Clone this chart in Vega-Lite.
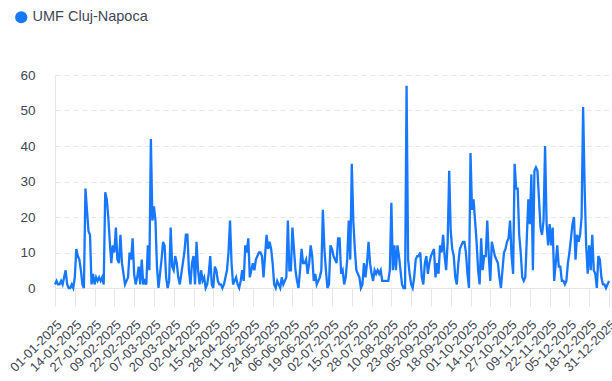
{
  "$schema": "https://vega.github.io/schema/vega-lite/v6.json",
  "autosize": "none",
  "width": 554,
  "height": 213,
  "padding": {"left": 55, "top": 75, "right": 3, "bottom": 93},
  "background": "white",
  "config": {
    "view": {"stroke": null},
    "font": "Liberation Sans"
  },
  "data": {"values": [
{"date":"01-01-2025","value":1},{"date":"02-01-2025","value":2},{"date":"03-01-2025","value":1},{"date":"04-01-2025","value":1},{"date":"05-01-2025","value":2},{"date":"06-01-2025","value":1},{"date":"07-01-2025","value":3},{"date":"08-01-2025","value":5},{"date":"09-01-2025","value":1},{"date":"10-01-2025","value":0},
{"date":"11-01-2025","value":0},{"date":"12-01-2025","value":1},{"date":"13-01-2025","value":0},{"date":"14-01-2025","value":3},{"date":"15-01-2025","value":11},{"date":"16-01-2025","value":9},{"date":"17-01-2025","value":8},{"date":"18-01-2025","value":5},{"date":"19-01-2025","value":1},{"date":"20-01-2025","value":0},
{"date":"21-01-2025","value":28},{"date":"22-01-2025","value":22},{"date":"23-01-2025","value":16},{"date":"24-01-2025","value":15},{"date":"25-01-2025","value":1},{"date":"26-01-2025","value":4},{"date":"27-01-2025","value":1},{"date":"28-01-2025","value":3},{"date":"29-01-2025","value":2},{"date":"30-01-2025","value":3},
{"date":"31-01-2025","value":2},
{"date":"01-02-2025","value":3},{"date":"02-02-2025","value":1},{"date":"03-02-2025","value":27},{"date":"04-02-2025","value":25},{"date":"05-02-2025","value":20},{"date":"06-02-2025","value":13},{"date":"07-02-2025","value":7},{"date":"08-02-2025","value":12},{"date":"09-02-2025","value":10},{"date":"10-02-2025","value":17},
{"date":"11-02-2025","value":8},{"date":"12-02-2025","value":7},{"date":"13-02-2025","value":15},{"date":"14-02-2025","value":7},{"date":"15-02-2025","value":4},{"date":"16-02-2025","value":1},{"date":"17-02-2025","value":2},{"date":"18-02-2025","value":3},{"date":"19-02-2025","value":10},{"date":"20-02-2025","value":8},
{"date":"21-02-2025","value":14},{"date":"22-02-2025","value":4},{"date":"23-02-2025","value":1},{"date":"24-02-2025","value":3},{"date":"25-02-2025","value":6},{"date":"26-02-2025","value":1},{"date":"27-02-2025","value":8},{"date":"28-02-2025","value":1},
{"date":"01-03-2025","value":2},{"date":"02-03-2025","value":1},{"date":"03-03-2025","value":12},{"date":"04-03-2025","value":5},{"date":"05-03-2025","value":42},{"date":"06-03-2025","value":19},{"date":"07-03-2025","value":23},{"date":"08-03-2025","value":19},{"date":"09-03-2025","value":6},{"date":"10-03-2025","value":0},
{"date":"11-03-2025","value":4},{"date":"12-03-2025","value":8},{"date":"13-03-2025","value":13},{"date":"14-03-2025","value":12},{"date":"15-03-2025","value":3},{"date":"16-03-2025","value":0},{"date":"17-03-2025","value":2},{"date":"18-03-2025","value":17},{"date":"19-03-2025","value":6},{"date":"20-03-2025","value":5},
{"date":"21-03-2025","value":9},{"date":"22-03-2025","value":7},{"date":"23-03-2025","value":3},{"date":"24-03-2025","value":1},{"date":"25-03-2025","value":4},{"date":"26-03-2025","value":7},{"date":"27-03-2025","value":10},{"date":"28-03-2025","value":15},{"date":"29-03-2025","value":15},{"date":"30-03-2025","value":5},
{"date":"31-03-2025","value":1},
{"date":"01-04-2025","value":7},{"date":"02-04-2025","value":9},{"date":"03-04-2025","value":1},{"date":"04-04-2025","value":13},{"date":"05-04-2025","value":5},{"date":"06-04-2025","value":1},{"date":"07-04-2025","value":5},{"date":"08-04-2025","value":2},{"date":"09-04-2025","value":3},{"date":"10-04-2025","value":0},
{"date":"11-04-2025","value":1},{"date":"12-04-2025","value":4},{"date":"13-04-2025","value":9},{"date":"14-04-2025","value":1},{"date":"15-04-2025","value":0},{"date":"16-04-2025","value":6},{"date":"17-04-2025","value":5},{"date":"18-04-2025","value":2},{"date":"19-04-2025","value":1},{"date":"20-04-2025","value":1},
{"date":"21-04-2025","value":0},{"date":"22-04-2025","value":1},{"date":"23-04-2025","value":3},{"date":"24-04-2025","value":5},{"date":"25-04-2025","value":10},{"date":"26-04-2025","value":19},{"date":"27-04-2025","value":7},{"date":"28-04-2025","value":1},{"date":"29-04-2025","value":2},{"date":"30-04-2025","value":3},
{"date":"01-05-2025","value":1},{"date":"02-05-2025","value":0},{"date":"03-05-2025","value":2},{"date":"04-05-2025","value":5},{"date":"05-05-2025","value":2},{"date":"06-05-2025","value":12},{"date":"07-05-2025","value":10},{"date":"08-05-2025","value":14},{"date":"09-05-2025","value":3},{"date":"10-05-2025","value":5},
{"date":"11-05-2025","value":7},{"date":"12-05-2025","value":5},{"date":"13-05-2025","value":8},{"date":"14-05-2025","value":9},{"date":"15-05-2025","value":10},{"date":"16-05-2025","value":10},{"date":"17-05-2025","value":9},{"date":"18-05-2025","value":3},{"date":"19-05-2025","value":9},{"date":"20-05-2025","value":15},
{"date":"21-05-2025","value":11},{"date":"22-05-2025","value":13},{"date":"23-05-2025","value":11},{"date":"24-05-2025","value":7},{"date":"25-05-2025","value":1},{"date":"26-05-2025","value":0},{"date":"27-05-2025","value":2},{"date":"28-05-2025","value":1},{"date":"29-05-2025","value":0},{"date":"30-05-2025","value":3},
{"date":"31-05-2025","value":1},
{"date":"01-06-2025","value":2},{"date":"02-06-2025","value":3},{"date":"03-06-2025","value":19},{"date":"04-06-2025","value":5},{"date":"05-06-2025","value":5},{"date":"06-06-2025","value":17},{"date":"07-06-2025","value":11},{"date":"08-06-2025","value":5},{"date":"09-06-2025","value":2},{"date":"10-06-2025","value":0},
{"date":"11-06-2025","value":5},{"date":"12-06-2025","value":11},{"date":"13-06-2025","value":7},{"date":"14-06-2025","value":7},{"date":"15-06-2025","value":8},{"date":"16-06-2025","value":4},{"date":"17-06-2025","value":7},{"date":"18-06-2025","value":12},{"date":"19-06-2025","value":9},{"date":"20-06-2025","value":2},
{"date":"21-06-2025","value":4},{"date":"22-06-2025","value":1},{"date":"23-06-2025","value":2},{"date":"24-06-2025","value":3},{"date":"25-06-2025","value":5},{"date":"26-06-2025","value":22},{"date":"27-06-2025","value":11},{"date":"28-06-2025","value":5},{"date":"29-06-2025","value":0},{"date":"30-06-2025","value":1},
{"date":"01-07-2025","value":12},{"date":"02-07-2025","value":11},{"date":"03-07-2025","value":9},{"date":"04-07-2025","value":8},{"date":"05-07-2025","value":7},{"date":"06-07-2025","value":14},{"date":"07-07-2025","value":14},{"date":"08-07-2025","value":4},{"date":"09-07-2025","value":5},{"date":"10-07-2025","value":1},
{"date":"11-07-2025","value":3},{"date":"12-07-2025","value":8},{"date":"13-07-2025","value":19},{"date":"14-07-2025","value":8},{"date":"15-07-2025","value":35},{"date":"16-07-2025","value":19},{"date":"17-07-2025","value":11},{"date":"18-07-2025","value":5},{"date":"19-07-2025","value":4},{"date":"20-07-2025","value":3},
{"date":"21-07-2025","value":0},{"date":"22-07-2025","value":1},{"date":"23-07-2025","value":7},{"date":"24-07-2025","value":3},{"date":"25-07-2025","value":7},{"date":"26-07-2025","value":13},{"date":"27-07-2025","value":7},{"date":"28-07-2025","value":4},{"date":"29-07-2025","value":2},{"date":"30-07-2025","value":5},
{"date":"31-07-2025","value":4},
{"date":"01-08-2025","value":5},{"date":"02-08-2025","value":4},{"date":"03-08-2025","value":5},{"date":"04-08-2025","value":2},{"date":"05-08-2025","value":2},{"date":"06-08-2025","value":2},{"date":"07-08-2025","value":2},{"date":"08-08-2025","value":2},{"date":"09-08-2025","value":5},{"date":"10-08-2025","value":24},
{"date":"11-08-2025","value":5},{"date":"12-08-2025","value":12},{"date":"13-08-2025","value":5},{"date":"14-08-2025","value":12},{"date":"15-08-2025","value":9},{"date":"16-08-2025","value":5},{"date":"17-08-2025","value":1},{"date":"18-08-2025","value":0},{"date":"19-08-2025","value":0},{"date":"20-08-2025","value":57},
{"date":"21-08-2025","value":8},{"date":"22-08-2025","value":4},{"date":"23-08-2025","value":1},{"date":"24-08-2025","value":0},{"date":"25-08-2025","value":3},{"date":"26-08-2025","value":8},{"date":"27-08-2025","value":9},{"date":"28-08-2025","value":9},{"date":"29-08-2025","value":10},{"date":"30-08-2025","value":3},
{"date":"31-08-2025","value":1},
{"date":"01-09-2025","value":7},{"date":"02-09-2025","value":9},{"date":"03-09-2025","value":4},{"date":"04-09-2025","value":7},{"date":"05-09-2025","value":9},{"date":"06-09-2025","value":10},{"date":"07-09-2025","value":11},{"date":"08-09-2025","value":3},{"date":"09-09-2025","value":7},{"date":"10-09-2025","value":4},
{"date":"11-09-2025","value":12},{"date":"12-09-2025","value":10},{"date":"13-09-2025","value":15},{"date":"14-09-2025","value":9},{"date":"15-09-2025","value":5},{"date":"16-09-2025","value":13},{"date":"17-09-2025","value":33},{"date":"18-09-2025","value":16},{"date":"19-09-2025","value":11},{"date":"20-09-2025","value":9},
{"date":"21-09-2025","value":3},{"date":"22-09-2025","value":1},{"date":"23-09-2025","value":7},{"date":"24-09-2025","value":11},{"date":"25-09-2025","value":12},{"date":"26-09-2025","value":13},{"date":"27-09-2025","value":13},{"date":"28-09-2025","value":10},{"date":"29-09-2025","value":4},{"date":"30-09-2025","value":0},
{"date":"01-10-2025","value":38},{"date":"02-10-2025","value":22},{"date":"03-10-2025","value":25},{"date":"04-10-2025","value":19},{"date":"05-10-2025","value":13},{"date":"06-10-2025","value":5},{"date":"07-10-2025","value":1},{"date":"08-10-2025","value":14},{"date":"09-10-2025","value":5},{"date":"10-10-2025","value":9},
{"date":"11-10-2025","value":9},{"date":"12-10-2025","value":19},{"date":"13-10-2025","value":9},{"date":"14-10-2025","value":2},{"date":"15-10-2025","value":13},{"date":"16-10-2025","value":11},{"date":"17-10-2025","value":9},{"date":"18-10-2025","value":8},{"date":"19-10-2025","value":7},{"date":"20-10-2025","value":3},
{"date":"21-10-2025","value":0},{"date":"22-10-2025","value":5},{"date":"23-10-2025","value":10},{"date":"24-10-2025","value":11},{"date":"25-10-2025","value":13},{"date":"26-10-2025","value":14},{"date":"27-10-2025","value":19},{"date":"28-10-2025","value":9},{"date":"29-10-2025","value":4},{"date":"30-10-2025","value":35},
{"date":"31-10-2025","value":28},
{"date":"01-11-2025","value":28},{"date":"02-11-2025","value":15},{"date":"03-11-2025","value":10},{"date":"04-11-2025","value":3},{"date":"05-11-2025","value":2},{"date":"06-11-2025","value":3},{"date":"07-11-2025","value":14},{"date":"08-11-2025","value":25},{"date":"09-11-2025","value":18},{"date":"10-11-2025","value":32},
{"date":"11-11-2025","value":5},{"date":"12-11-2025","value":33},{"date":"13-11-2025","value":34},{"date":"14-11-2025","value":33},{"date":"15-11-2025","value":25},{"date":"16-11-2025","value":17},{"date":"17-11-2025","value":15},{"date":"18-11-2025","value":19},{"date":"19-11-2025","value":40},{"date":"20-11-2025","value":18},
{"date":"21-11-2025","value":12},{"date":"22-11-2025","value":18},{"date":"23-11-2025","value":12},{"date":"24-11-2025","value":17},{"date":"25-11-2025","value":2},{"date":"26-11-2025","value":7},{"date":"27-11-2025","value":12},{"date":"28-11-2025","value":6},{"date":"29-11-2025","value":6},{"date":"30-11-2025","value":2},
{"date":"01-12-2025","value":2},{"date":"02-12-2025","value":1},{"date":"03-12-2025","value":2},{"date":"04-12-2025","value":7},{"date":"05-12-2025","value":10},{"date":"06-12-2025","value":14},{"date":"07-12-2025","value":18},{"date":"08-12-2025","value":20},{"date":"09-12-2025","value":8},{"date":"10-12-2025","value":15},
{"date":"11-12-2025","value":13},{"date":"12-12-2025","value":15},{"date":"13-12-2025","value":20},{"date":"14-12-2025","value":51},{"date":"15-12-2025","value":28},{"date":"16-12-2025","value":12},{"date":"17-12-2025","value":4},{"date":"18-12-2025","value":12},{"date":"19-12-2025","value":5},{"date":"20-12-2025","value":15},
{"date":"21-12-2025","value":5},{"date":"22-12-2025","value":4},{"date":"23-12-2025","value":0},{"date":"24-12-2025","value":9},{"date":"25-12-2025","value":8},{"date":"26-12-2025","value":3},{"date":"27-12-2025","value":1},{"date":"28-12-2025","value":1},{"date":"29-12-2025","value":0},{"date":"30-12-2025","value":1},
{"date":"31-12-2025","value":2}
  ]},
  "mark": {"type": "line", "strokeWidth": 2.3, "interpolate": "linear"},
  "encoding": {
    "x": {
      "field": "date",
      "type": "ordinal",
      "sort": null,
      "scale": {"type": "point", "padding": 0},
      "axis": {
        "title": null,
        "values": ["01-01-2025","14-01-2025","27-01-2025","09-02-2025","22-02-2025","07-03-2025","20-03-2025","02-04-2025","15-04-2025","28-04-2025","11-05-2025","24-05-2025","06-06-2025","19-06-2025","02-07-2025","15-07-2025","28-07-2025","10-08-2025","23-08-2025","05-09-2025","18-09-2025","01-10-2025","14-10-2025","27-10-2025","09-11-2025","22-11-2025","05-12-2025","18-12-2025","31-12-2025"],
        "labelAngle": -45,
        "labelFontSize": 13,
        "labelColor": "#3f4754",
        "labelPadding": 12,
        "labelBaseline": "top",
        "tickSize": 18,
        "tickColor": "#e6e6e6",
        "domainColor": "#e6e6e6",
        "grid": false,
        "labelOverlap": false
      }
    },
    "y": {
      "field": "value",
      "type": "quantitative",
      "scale": {"domain": [0, 60], "nice": false},
      "axis": {
        "title": null,
        "values": [0, 10, 20, 30, 40, 50, 60],
        "labelFontSize": 13.5,
        "labelColor": "#3f4754",
        "tickSize": 0,
        "labelPadding": 20,
        "domainColor": "#e6e6e6",
        "gridColor": "#e6e6e6",
        "gridDash": [5, 4]
      }
    },
    "color": {
      "datum": "UMF Cluj-Napoca",
      "type": "nominal",
      "scale": {"range": ["#1677ff"]},
      "legend": {
        "title": null,
        "orient": "none",
        "legendX": -41,
        "legendY": -65,
        "padding": 0,
        "symbolType": "circle",
        "symbolSize": 150,
        "labelFontSize": 14.5,
        "labelColor": "#3f4754",
        "labelOffset": 4,
        "encode": {"symbols": {"update": {"fill": {"value": "#1677ff"}, "strokeWidth": {"value": 0}}}}
      }
    }
  }
}
